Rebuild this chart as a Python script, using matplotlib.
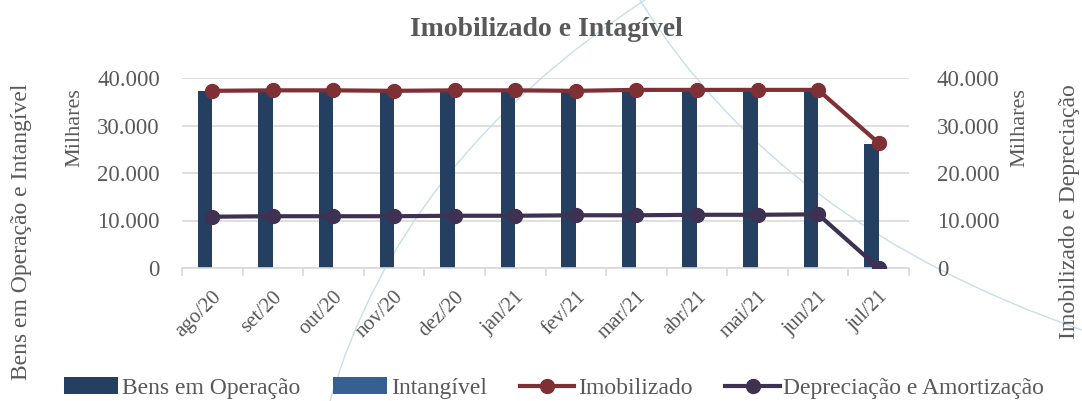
import matplotlib
matplotlib.use("Agg")
import matplotlib.pyplot as plt
import numpy as np
from matplotlib.path import Path
from matplotlib.patches import PathPatch
from matplotlib.ticker import FuncFormatter, FixedLocator

months = ["ago/20", "set/20", "out/20", "nov/20", "dez/20", "jan/21",
          "fev/21", "mar/21", "abr/21", "mai/21", "jun/21", "jul/21"]
bens_operacao = [37200, 37300, 37300, 37200, 37300, 37300, 37200, 37400, 37400, 37400, 37400, 26100]
intangivel = [0, 0, 0, 0, 0, 0, 0, 0, 0, 0, 0, 0]
imobilizado = [37300, 37400, 37400, 37300, 37400, 37400, 37300, 37500, 37500, 37500, 37500, 26300]
depreciacao = [10800, 10900, 10900, 10900, 11000, 11000, 11100, 11100, 11200, 11200, 11300, 0]

c_bens = "#243F60"
c_intang = "#366092"
c_imob = "#7F3035"
c_depr = "#3F3151"
c_text = "#595959"
c_grid = "#D9D9D9"

plt.rcParams["font.family"] = ["Liberation Serif", "DejaVu Serif"]

fig = plt.figure(figsize=(10.82, 4.01), dpi=100)

# decorative background arcs
deco = [
    [(330, 401), (400, 160), (645, 0)],
    [(640, 0), (779, 225), (1082, 330)],
]
for pts in deco:
    verts = [(px / 1082, 1 - py / 401) for px, py in pts]
    p = Path(verts, [Path.MOVETO, Path.CURVE3, Path.CURVE3])
    fig.add_artist(PathPatch(p, transform=fig.transFigure, fill=False,
                             edgecolor="#C5E0EA", lw=1.0, zorder=0))

ax = fig.add_axes([182 / 1082, 1 - 268 / 401, 727 / 1082, 190 / 401])
ax.patch.set_alpha(0)
x = np.arange(len(months))
w = 0.24
ax.bar(x - w / 2, bens_operacao, w, color=c_bens, label="Bens em Operação", zorder=2)
ax.bar(x + w / 2, intangivel, w, color=c_intang, label="Intangível", zorder=2)

ax.set_xlim(-0.5, len(months) - 0.5)
ax.set_ylim(0, 40000)
ax.yaxis.set_major_locator(FixedLocator([0, 10000, 20000, 30000, 40000]))
fmt = FuncFormatter(lambda v, _: f"{int(v):,}".replace(",", "."))
ax.yaxis.set_major_formatter(fmt)
ax.grid(True, axis="y", color=c_grid, lw=1.2, zorder=0)
for s in ["top", "right", "left"]:
    ax.spines[s].set_visible(False)
ax.spines["bottom"].set_color(c_grid)
ax.spines["bottom"].set_linewidth(1.2)
ax.tick_params(axis="y", length=0, labelsize=16.5, labelcolor=c_text, pad=16)
ax.set_xticks(x)
ax.set_xticklabels(months, rotation=45, ha="right", rotation_mode="anchor",
                   fontsize=15, color=c_text)
ax.tick_params(axis="x", which="major", length=0, pad=14)
ax.set_xticks(np.arange(-0.5, len(months), 1), minor=True)
ax.tick_params(axis="x", which="minor", length=6, color=c_grid, width=1.2)

ax2 = ax.twinx()
ax2.plot(x, imobilizado, color=c_imob, lw=3, marker="o", ms=10, label="Imobilizado", zorder=3)
ax2.plot(x, depreciacao, color=c_depr, lw=3, marker="o", ms=10,
         label="Depreciação e Amortização", zorder=3)
ax2.set_ylim(0, 40000)
ax2.yaxis.set_major_locator(FixedLocator([0, 10000, 20000, 30000, 40000]))
ax2.yaxis.set_major_formatter(fmt)
for s in ax2.spines.values():
    s.set_visible(False)
ax2.tick_params(axis="y", length=0, labelsize=16.5, labelcolor=c_text, pad=20)
ax2.set_zorder(ax.get_zorder() + 1)
ax2.patch.set_visible(False)

fig.text(546 / 1082, 1 - 30 / 401, "Imobilizado e Intagível", ha="center", va="center",
         fontsize=20, fontweight="bold", color=c_text)
fig.text(22 / 1082, 1 - 232 / 401, "Bens em Operação e Intangível", rotation=90,
         ha="center", va="center", fontsize=17, color=c_text)
fig.text(75 / 1082, 1 - 128 / 401, "Milhares", rotation=90,
         ha="center", va="center", fontsize=16, color=c_text)
fig.text(1020 / 1082, 1 - 128 / 401, "Milhares", rotation=90,
         ha="center", va="center", fontsize=16, color=c_text)
fig.text(1070 / 1082, 1 - 212 / 401, "Imobilizado e Depreciação", rotation=90,
         ha="center", va="center", fontsize=17, color=c_text)

h1, l1 = ax.get_legend_handles_labels()
h2, l2 = ax2.get_legend_handles_labels()
leg = fig.legend(h1 + h2, l1 + l2, loc="center", bbox_to_anchor=(554 / 1082, 1 - 388 / 401),
                 ncol=4, frameon=False, fontsize=17, handlelength=2.3,
                 handletextpad=0.15, columnspacing=1.4, borderpad=0)
for t in leg.get_texts():
    t.set_color(c_text)

fig.savefig("out.png", dpi=100)
